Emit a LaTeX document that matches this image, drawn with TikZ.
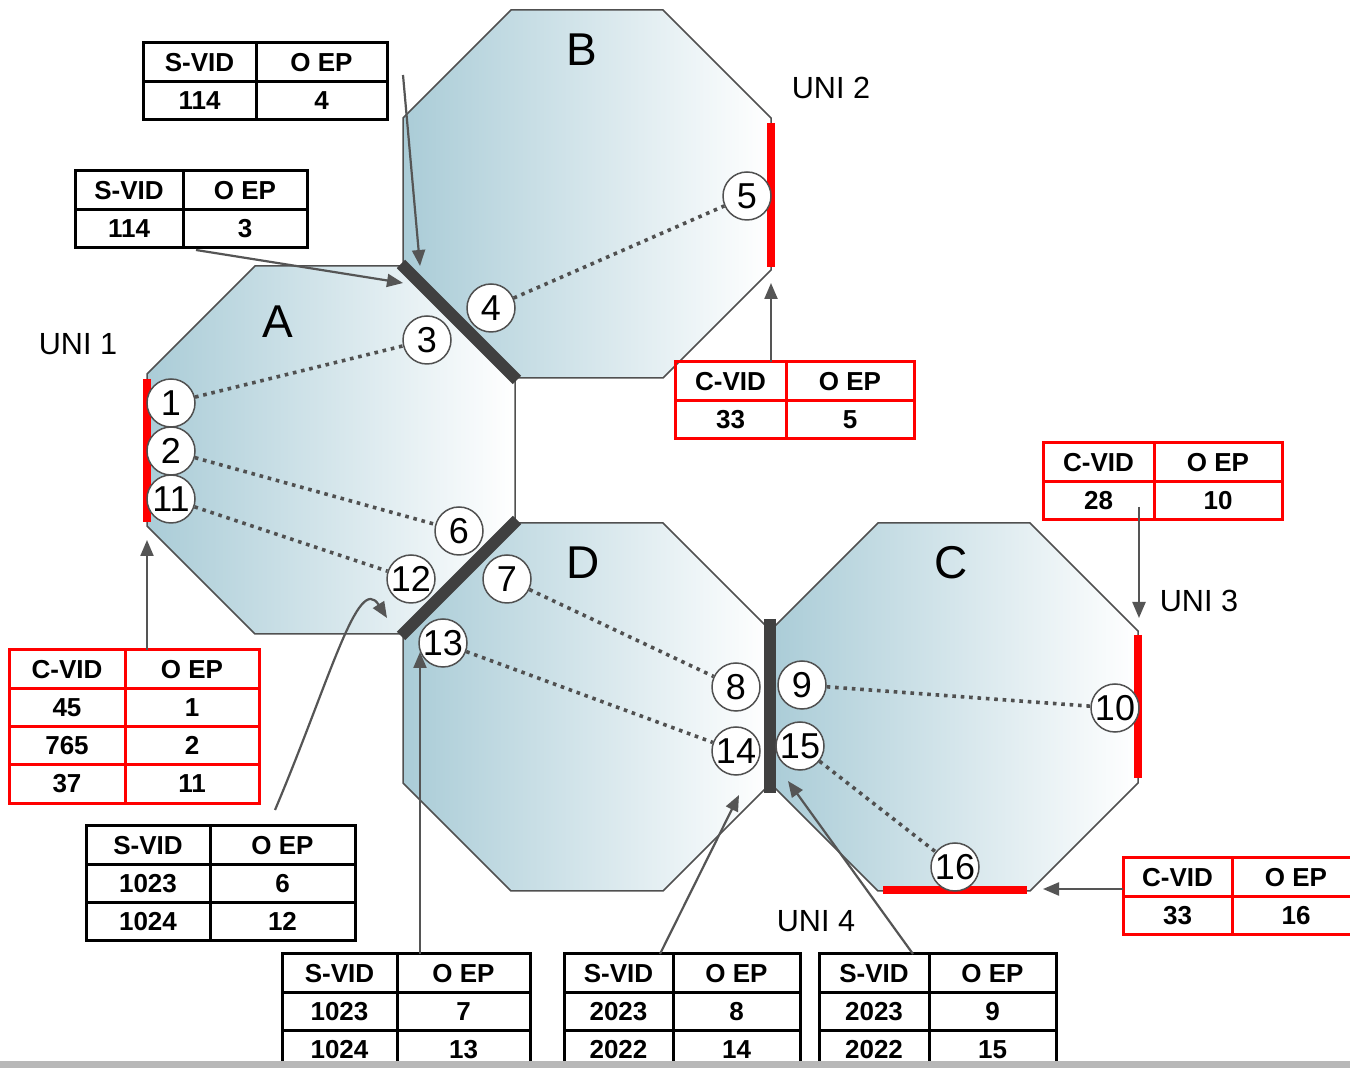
\documentclass[tikz,border=0pt]{standalone}
\usepackage{fontspec}
\setmainfont{Liberation Sans}
\usetikzlibrary{arrows.meta}
\definecolor{octblue}{RGB}{170,204,215}
\definecolor{octline}{RGB}{80,80,80}
\definecolor{barcol}{RGB}{64,64,64}
\definecolor{arrcol}{RGB}{85,85,85}
\definecolor{stripcol}{RGB}{184,184,184}
\tikzset{
  octedge/.style={draw=octline,line width=0.75pt,line join=miter},
  joinbar/.style={draw=barcol,line width=6pt},
  unibar/.style={draw=red,line width=4pt},
  port/.style={circle,draw=octline,fill=white,line width=0.75pt,minimum size=24pt,inner sep=0pt,font=\fontsize{18}{18}\selectfont},
  dotline/.style={draw=octline,line width=1.8pt,dash pattern=on 1.8pt off 2.4pt},
  octlab/.style={font=\fontsize{23}{23}\selectfont,inner sep=0pt},
  unilab/.style={font=\fontsize{15.3}{15.3}\selectfont,inner sep=0pt},
  tabline/.style={line width=1.5pt},
  tabtext/.style={font=\bfseries\fontsize{13}{13}\selectfont,inner sep=0pt},
  arr/.style={draw=arrcol,line width=1.1pt,-{Triangle[length=8pt,width=6.5pt]}}
}
\newcommand\octagon[2]{%
  \begin{scope}[shift={(#1,#2)}]
    \shade[left color=octblue,right color=white] (108,0) -- (260,0) -- (368,108) -- (368,260) -- (260,368) -- (108,368) -- (0,260) -- (0,108) -- cycle;
    \draw[octedge] (108,0) -- (260,0) -- (368,108) -- (368,260) -- (260,368) -- (108,368) -- (0,260) -- (0,108) -- cycle;
  \end{scope}}
\newcommand\vidtab[8]{%
  \foreach [count=\i from 0] \a/\b in {#7/O EP,#8} {
    \pgfmathsetmacro\ya{#5+\i*38.3}
    \pgfmathsetmacro\yb{#5+(\i+1)*38.3}
    \draw[tabline,draw=#6] (#2,\ya) rectangle (#3,\yb);
    \draw[tabline,draw=#6] (#3,\ya) rectangle (#4,\yb);
    \node[tabtext] (#1-\i-l) at ({(#2+#3)/2},{(\ya+\yb)/2}) {\a};
    \node[tabtext] (#1-\i-r) at ({(#3+#4)/2},{(\ya+\yb)/2}) {\b};
  }}
\begin{document}
\begin{tikzpicture}[x=0.5pt,y=-0.5pt]
\clip (0,0) rectangle (1350,1068);
\fill[white] (0,0) rectangle (1350,1068);
% octagons
\octagon{403}{10}
\octagon{147}{266}
\octagon{403}{523}
\octagon{770}{523}
% joints between octagons
\draw[joinbar] (401,264) -- (517,380);
\draw[joinbar] (401,636) -- (517,520);
\draw[joinbar] (770,619) -- (770,793);
% UNI bars
\draw[unibar] (147,379) -- (147,522);
\draw[unibar] (771,123) -- (771,267);
\draw[unibar] (1138,635) -- (1138,778);
\draw[unibar] (883,890) -- (1027,890);
% ports
\node[port] (p1) at (171,403) {1};
\node[port] (p2) at (171,451) {2};
\node[port] (p11) at (171,499) {11};
\node[port] (p3) at (427,340) {3};
\node[port] (p4) at (491,308) {4};
\node[port] (p5) at (747,196) {5};
\node[port] (p6) at (459,531) {6};
\node[port] (p12) at (411,579) {12};
\node[port] (p7) at (507,579) {7};
\node[port] (p13) at (443,643) {13};
\node[port] (p8) at (736,687) {8};
\node[port] (p14) at (736,751) {14};
\node[port] (p9) at (802,685) {9};
\node[port] (p15) at (800,746) {15};
\node[port] (p10) at (1115,708) {10};
\node[port] (p16) at (955,867) {16};
% dotted paths
\draw[dotline] (p1) -- (p3);
\draw[dotline] (p2) -- (p6);
\draw[dotline] (p11) -- (p12);
\draw[dotline] (p4) -- (p5);
\draw[dotline] (p7) -- (p8);
\draw[dotline] (p13) -- (p14);
\draw[dotline] (p9) -- (p10);
\draw[dotline] (p15) -- (p16);
% labels
\node[octlab] (labA) at (278,322) {A};
\node[octlab] (labB) at (582,50) {B};
\node[octlab] (labD) at (583,563) {D};
\node[octlab] (labC) at (951,563) {C};
\node[unilab] (uni1) at (78,344) {UNI 1};
\node[unilab] (uni2) at (831,88) {UNI 2};
\node[unilab] (uni3) at (1199,601) {UNI 3};
\node[unilab] (uni4) at (816,921) {UNI 4};
% tables
\vidtab{t1}{143}{256}{387}{43}{black}{S-VID}{114/4}
\vidtab{t2}{75}{183}{307}{171}{black}{S-VID}{114/3}
\vidtab{t3}{675}{786}{914}{362}{red}{C-VID}{33/5}
\vidtab{t4}{1043}{1154}{1282}{443}{red}{C-VID}{28/10}
\vidtab{t5}{9}{125}{259}{650}{red}{C-VID}{45/1,765/2,37/11}
\vidtab{t6}{86}{210}{355}{826}{black}{S-VID}{1023/6,1024/12}
\vidtab{t7}{282}{397}{530}{954}{black}{S-VID}{1023/7,1024/13}
\vidtab{t8}{564}{673}{800}{954}{black}{S-VID}{2023/8,2022/14}
\vidtab{t9}{819}{929}{1056}{954}{black}{S-VID}{2023/9,2022/15}
\vidtab{t10}{1123}{1232}{1360}{858}{red}{C-VID}{33/16}
% arrows
\coordinate (a1s) at (403,75);   \coordinate (a1e) at (420,266);
\coordinate (a2s) at (196,250);  \coordinate (a2e) at (403,283);
\coordinate (a3s) at (771,362);  \coordinate (a3e) at (771,283);
\coordinate (a4s) at (1139,507); \coordinate (a4e) at (1139,618);
\coordinate (a5s) at (147,650);  \coordinate (a5e) at (147,540);
\coordinate (a6s) at (275,810);  \coordinate (a6e) at (387,618);
\coordinate (a7s) at (420,954);  \coordinate (a7e) at (420,652);
\coordinate (a8s) at (660,954);  \coordinate (a8e) at (739,795);
\coordinate (a9s) at (913,954);  \coordinate (a9e) at (788,781);
\coordinate (a10s) at (1123,889); \coordinate (a10e) at (1043,889);
\draw[arr] (a1s) -- (a1e);
\draw[arr] (a2s) -- (a2e);
\draw[arr] (a3s) -- (a3e);
\draw[arr] (a4s) -- (a4e);
\draw[arr] (a5s) -- (a5e);
\draw[arr] (a6s) .. controls (330,680) and (358,572) .. (a6e);
\draw[arr] (a7s) -- (a7e);
\draw[arr] (a8s) -- (a8e);
\draw[arr] (a9s) -- (a9e);
\draw[arr] (a10s) -- (a10e);
% bottom strip
\fill[stripcol] (0,1061) rectangle (1350,1068);
\end{tikzpicture}
\end{document}
